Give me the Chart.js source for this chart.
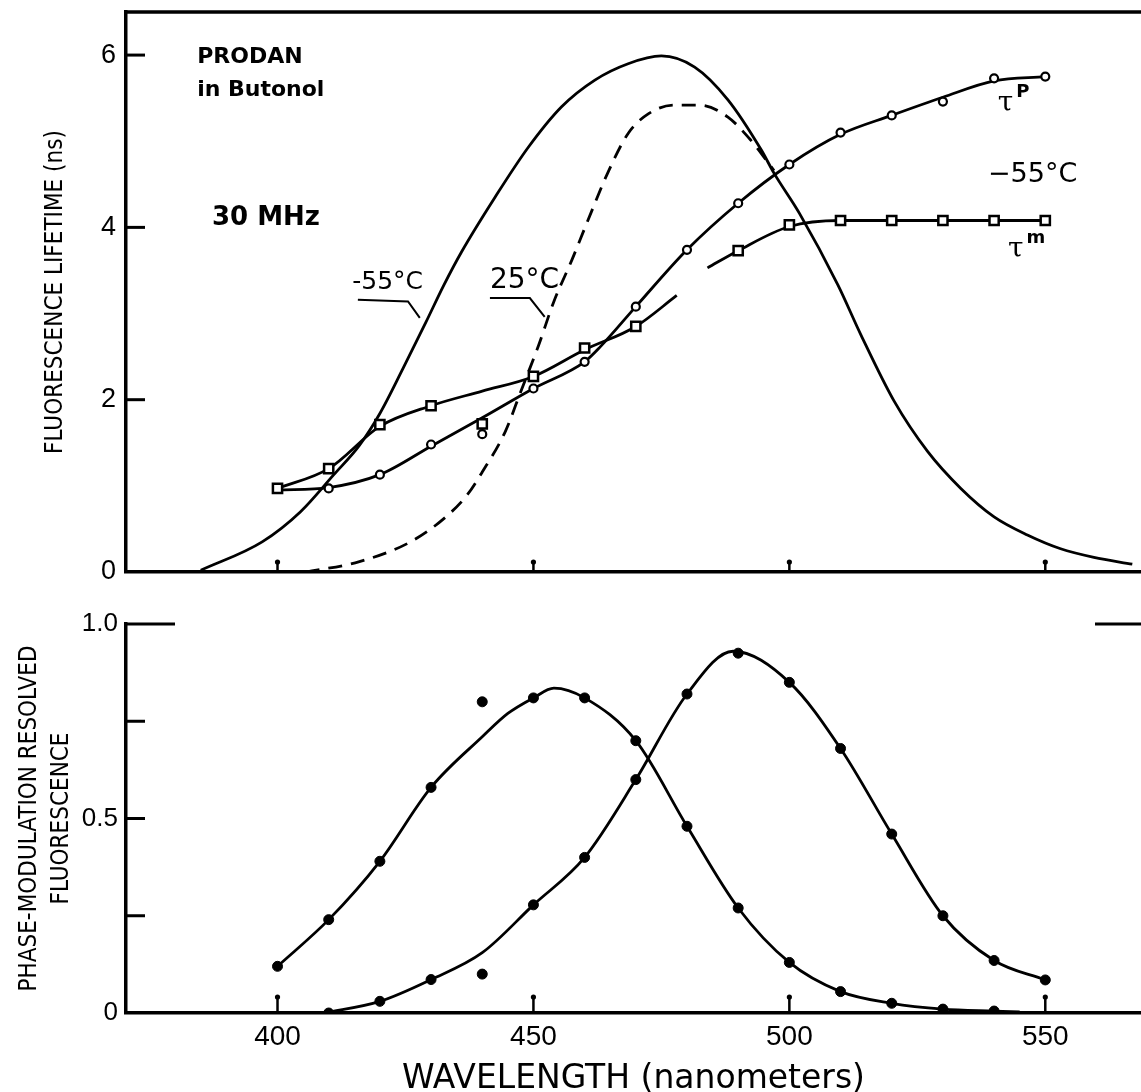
<!DOCTYPE html>
<html>
<head>
<meta charset="utf-8">
<title>PRODAN in Butanol - lifetimes and phase-modulation resolved spectra</title>
<script src="https://cdn.jsdelivr.net/npm/chart.js@4.4.1/dist/chart.umd.min.js"></script>
<style>
  html, body { margin: 0; padding: 0; background: #fff; overflow: hidden; }
  #wrap { position: relative; width: 1141px; height: 1092px; }
  canvas { position: absolute; left: 0; }
  #top { top: 0; }
  #bottom { top: 600px; }
</style>
</head>
<body>
<div id="wrap">
  <canvas id="top" width="1141" height="600"></canvas>
  <canvas id="bottom" width="1141" height="492"></canvas>
</div>
<script>
/* ---- top panel: emission spectra (arbitrary height) ---- */
const em55Wl = [385, 397, 404.5, 411, 416, 420, 424.5, 429, 432.5, 436, 442.5, 449, 455.5, 462, 468.5, 475, 481.5, 488, 494.5, 497, 502, 509.5, 514, 520.5, 527, 533.5, 540, 546.5, 553, 559.5, 567];
const em55 = [0.02, 0.35, 0.70, 1.13, 1.47, 1.84, 2.36, 2.90, 3.33, 3.72, 4.35, 4.93, 5.40, 5.71, 5.90, 5.99, 5.86, 5.48, 4.90, 4.63, 4.16, 3.33, 2.75, 1.98, 1.40, 0.97, 0.64, 0.43, 0.27, 0.17, 0.09];

const em25Wl = [405.5, 416, 426, 432.5, 437, 440, 444.5, 447.5, 451, 454, 457.5, 460.5, 464.5, 468.5, 472.5, 477.5, 482.5, 488, 492.5, 495.5, 497];
const em25 = [0.0, 0.12, 0.35, 0.62, 0.89, 1.16, 1.63, 2.09, 2.63, 3.14, 3.62, 4.06, 4.63, 5.09, 5.32, 5.42, 5.42, 5.28, 5.01, 4.78, 4.66];

/* lifetimes at -55 C, measured (ns) */
const tauWl = [400, 410, 420, 430, 440, 450, 460, 470, 480, 490, 500, 510, 520, 530, 540, 550];
const tauP = [null, 0.97, 1.13, 1.48, 1.60, 2.13, 2.44, 3.08, 3.74, 4.28, 4.73, 5.10, 5.30, 5.46, 5.73, 5.75];
const tauM = [0.97, 1.20, 1.71, 1.93, 1.72, 2.27, 2.60, 2.85, null, 3.73, 4.03, 4.08, 4.08, 4.08, 4.08, 4.08];

/* drawn curves through the lifetimes */
const tauPLineWl = [400, 410, 420, 430, 440, 450, 460, 463, 470, 480, 490, 500, 510, 520, 530, 540, 550];
const tauPLine = [0.95, 0.98, 1.13, 1.46, 1.79, 2.13, 2.44, 2.61, 3.08, 3.74, 4.28, 4.73, 5.08, 5.30, 5.51, 5.70, 5.75];
const tauMLineWl = [400, 410, 420, 430, 440, 450, 460, 470, 478, 481, 484, 490, 500, 510, 520, 530, 540, 550];
const tauMLine = [0.97, 1.20, 1.69, 1.93, 2.10, 2.27, 2.58, 2.85, 3.21, null, 3.53, 3.73, 4.01, 4.08, 4.08, 4.08, 4.08, 4.08];

/* ---- bottom panel: phase-modulation resolved spectra ---- */
const specWl = [400, 410, 420, 430, 440, 450, 460, 470, 480, 490, 500, 510, 520, 530, 540, 550];
const phaseA = [0.12, 0.24, 0.39, 0.58, 0.80, 0.81, 0.81, 0.70, 0.48, 0.27, 0.13, 0.055, 0.025, 0.01, 0.005, null];
const phaseB = [null, 0.0, 0.03, 0.086, 0.10, 0.278, 0.40, 0.60, 0.82, 0.925, 0.85, 0.68, 0.46, 0.25, 0.135, 0.085];

const curveAWl = [400, 410, 420, 430, 440, 445, 450, 454, 460, 470, 480, 490, 500, 510, 520, 530, 540, 545];
const curveA = [0.12, 0.24, 0.39, 0.58, 0.71, 0.77, 0.81, 0.835, 0.81, 0.70, 0.48, 0.27, 0.13, 0.055, 0.025, 0.01, 0.005, 0.003];
const curveBWl = [409, 420, 430, 440, 450, 460, 470, 480, 489, 500, 510, 520, 530, 540, 550];
const curveB = [0.0, 0.03, 0.086, 0.155, 0.278, 0.40, 0.60, 0.82, 0.93, 0.85, 0.68, 0.46, 0.25, 0.135, 0.085];

const xTicks = [400, 450, 500, 550];

const pts = (xs, ys) => xs.map((x, i) => ({ x, y: ys[i] }));

// fixes axis box size so both panels line up with the scan
const box = (w, h) => scale => {
  if (w != null) scale.width = w;
  if (h != null) scale.height = h;
  scale.paddingTop = scale.paddingBottom = scale.paddingLeft = scale.paddingRight = 0;
};

// inward tick marks, frame pieces and lettering
const ink = {
  id: 'ink',
  afterDraw(chart, args, o) {
    const { ctx, chartArea: a, scales: { x, y } } = chart;
    ctx.save();
    ctx.strokeStyle = '#000';
    ctx.fillStyle = '#000';
    ctx.lineCap = 'butt';
    const seg = (x1, y1, x2, y2, w) => {
      ctx.lineWidth = w; ctx.beginPath(); ctx.moveTo(x1, y1); ctx.lineTo(x2, y2); ctx.stroke();
    };
    o.yTicks.forEach(v => {
      const py = y.getPixelForValue(v);
      seg(a.left, py, a.left + 19, py, 3);
    });
    xTicks.forEach(v => {
      const px = x.getPixelForValue(v);
      seg(px, a.bottom, px, a.bottom - o.xTickLen, 2.5);
      ctx.beginPath(); ctx.arc(px, a.bottom - o.xTickLen, 2.6, 0, Math.PI * 2); ctx.fill();
    });
    if (o.frame === 'full') seg(a.left, a.top, a.right, a.top, 3.5);
    if (o.frame === 'pieces') {
      seg(a.left, a.top, a.left + 49, a.top, 3);
      seg(a.right - 46, a.top, a.right, a.top, 3);
    }
    (o.leaders || []).forEach(l => {
      ctx.lineWidth = 2;
      ctx.beginPath();
      l.forEach(([lx, ly], i) => {
        const px = x.getPixelForValue(lx), py = y.getPixelForValue(ly);
        i ? ctx.lineTo(px, py) : ctx.moveTo(px, py);
      });
      ctx.stroke();
    });
    ctx.textBaseline = 'middle';
    ctx.textAlign = 'left';
    (o.notes || []).forEach(n => {
      const px = x.getPixelForValue(n.x), py = y.getPixelForValue(n.y);
      ctx.font = n.font;
      ctx.fillText(n.t, px, py);
      if (n.sup) {
        const w = ctx.measureText(n.t).width;
        ctx.font = 'bold 18px "DejaVu Sans"';
        ctx.fillText(n.sup, px + w + 3, py - 11);
      }
    });
    ctx.restore();
  }
};

const base = {
  responsive: false,
  animation: false,
  events: [],
  plugins: { legend: { display: false }, tooltip: { enabled: false } },
  elements: {
    line: { borderColor: '#000', borderWidth: 2.8, fill: false, cubicInterpolationMode: 'monotone' },
    point: { radius: 0 }
  }
};

const tickFont = { family: '"Liberation Sans", Arial, sans-serif', size: 27 };
const titleFont = { family: '"DejaVu Sans Condensed", "DejaVu Sans", sans-serif', size: 24 };

new Chart(document.getElementById('top'), {
  type: 'line',
  data: {
    datasets: [
      { data: pts(tauWl, tauP), showLine: false, pointStyle: 'circle', pointRadius: 4,
        pointBackgroundColor: '#fff', pointBorderColor: '#000', pointBorderWidth: 2.2, order: 0 },
      { data: pts(tauWl, tauM), showLine: false, pointStyle: 'rect', pointRadius: 6.5,
        pointBackgroundColor: '#fff', pointBorderColor: '#000', pointBorderWidth: 2.5, order: 0 },
      { data: pts(tauPLineWl, tauPLine), order: 1 },
      { data: pts(tauMLineWl, tauMLine), spanGaps: false, order: 1 },
      { data: pts(em55Wl, em55), order: 2 },
      { data: pts(em25Wl, em25), borderDash: [14, 9], order: 2 }
    ]
  },
  options: {
    ...base,
    layout: { autoPadding: false, padding: { top: 12, left: 0, right: 0, bottom: 0 } },
    scales: {
      x: {
        type: 'linear', min: 370.4, max: 568.7,
        grid: { display: false, drawTicks: false },
        border: { display: true, color: '#000', width: 3.5 },
        ticks: { display: false },
        afterFit: box(null, 28)
      },
      y: {
        type: 'linear', min: 0, max: 6.5,
        grid: { display: false, drawTicks: false },
        border: { display: true, color: '#000', width: 3.5 },
        afterBuildTicks: s => { s.ticks = [0, 2, 4, 6].map(v => ({ value: v })); },
        ticks: { color: '#000', font: tickFont, padding: 10 },
        title: { display: true, text: 'FLUORESCENCE LIFETIME (ns)', color: '#000', font: titleFont, padding: { top: 41 } },
        afterFit: box(126, null)
      }
    },
    plugins: {
      ...base.plugins,
      ink: {
        yTicks: [2, 4, 6], xTickLen: 10, frame: 'full',
        leaders: [
          [[415.7, 3.16], [425.5, 3.14], [427.8, 2.95]],
          [[441.5, 3.18], [449.3, 3.18], [452.2, 2.96]]
        ],
        notes: [
          { t: 'PRODAN', x: 384.3, y: 5.97, font: 'bold 22px "DejaVu Sans"' },
          { t: 'in Butonol', x: 384.3, y: 5.59, font: 'bold 22px "DejaVu Sans"' },
          { t: '30 MHz', x: 387.2, y: 4.11, font: 'bold 26px "DejaVu Sans"' },
          { t: '-55°C', x: 414.6, y: 3.36, font: '25px "DejaVu Sans"' },
          { t: '25°C', x: 441.5, y: 3.38, font: '28px "DejaVu Sans"' },
          { t: '\u221255°C', x: 538.8, y: 4.61, font: '27px "DejaVu Sans"' },
          { t: 'τ', sup: 'P', x: 540.7, y: 5.44, font: '28px "DejaVu Serif"' },
          { t: 'τ', sup: 'm', x: 542.7, y: 3.74, font: '28px "DejaVu Serif"' }
        ]
      }
    }
  },
  plugins: [ink]
});

new Chart(document.getElementById('bottom'), {
  type: 'line',
  data: {
    datasets: [
      { data: pts(specWl, phaseA), showLine: false, pointRadius: 5, pointBackgroundColor: '#000', pointBorderColor: '#000', order: 0 },
      { data: pts(specWl, phaseB), showLine: false, pointRadius: 5, pointBackgroundColor: '#000', pointBorderColor: '#000', order: 0 },
      { data: pts(curveAWl, curveA), order: 1 },
      { data: pts(curveBWl, curveB), order: 1 }
    ]
  },
  options: {
    ...base,
    layout: { autoPadding: false, padding: { top: 24, left: 0, right: 0, bottom: 0 } },
    scales: {
      x: {
        type: 'linear', min: 370.4, max: 568.7,
        grid: { display: false, drawTicks: false },
        border: { display: true, color: '#000', width: 3.5 },
        afterBuildTicks: s => { s.ticks = xTicks.map(v => ({ value: v })); },
        ticks: { color: '#000', font: { family: '"Liberation Sans", Arial, sans-serif', size: 28 }, padding: 7, maxRotation: 0 },
        title: {
          display: true, text: 'WAVELENGTH (nanometers)', color: '#000',
          font: { family: '"DejaVu Sans", sans-serif', size: 33, lineHeight: 0.75 },
          padding: { top: 0, bottom: 0 }
        },
        afterFit: box(null, 79)
      },
      y: {
        type: 'linear', min: 0, max: 1,
        grid: { display: false, drawTicks: false },
        border: { display: true, color: '#000', width: 3.5 },
        afterBuildTicks: s => { s.ticks = [0, 0.25, 0.5, 0.75, 1].map(v => ({ value: v })); },
        ticks: {
          color: '#000', font: { family: '"Liberation Sans", Arial, sans-serif', size: 26 }, padding: 8,
          callback: v => (v === 0 ? '0' : v === 0.5 ? '0.5' : v === 1 ? '1.0' : '')
        },
        title: {
          display: true, text: ['PHASE-MODULATION RESOLVED', 'FLUORESCENCE'], color: '#000',
          font: { ...titleFont, lineHeight: 1.33 }, padding: { top: 14 }
        },
        afterFit: box(126, null)
      }
    },
    plugins: {
      ...base.plugins,
      ink: { yTicks: [0.25, 0.5, 0.75], xTickLen: 16, frame: 'pieces' }
    }
  },
  plugins: [ink]
});
</script>
</body>
</html>
